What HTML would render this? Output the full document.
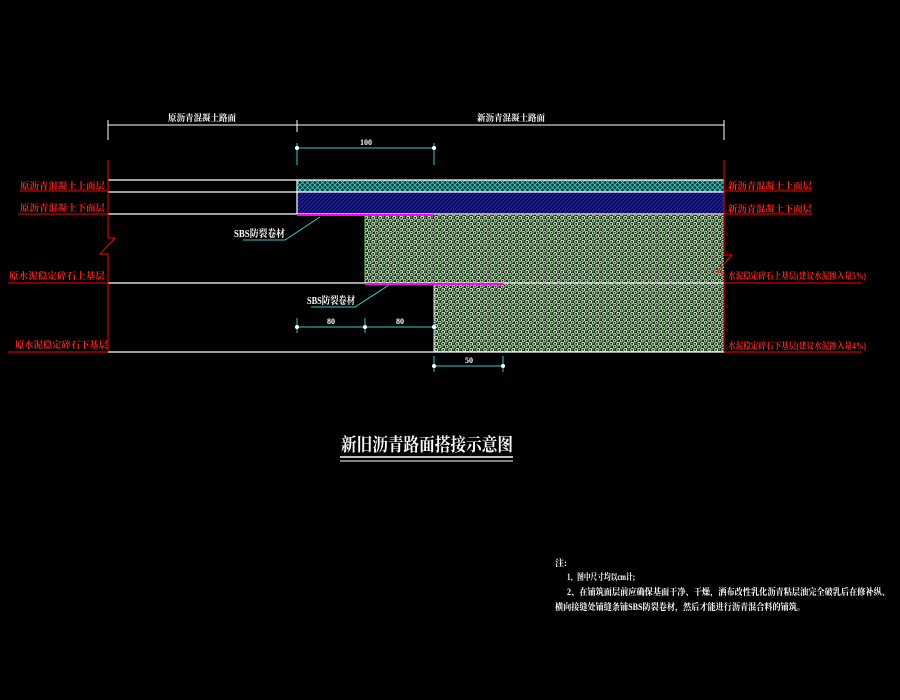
<!DOCTYPE html>
<html><head><meta charset="utf-8"><style>
html,body{margin:0;padding:0;background:#000;width:900px;height:700px;overflow:hidden}
svg{display:block}
text{font-family:"Liberation Serif","Noto Serif CJK SC","Noto Sans CJK SC",serif;font-weight:bold}
</style></head><body>
<svg width="900" height="700" viewBox="0 0 900 700" xmlns="http://www.w3.org/2000/svg">
<defs>
<pattern id="cx" width="5" height="5" patternUnits="userSpaceOnUse">
<rect width="5" height="5" fill="#0d3a3a"/>
<path d="M0 0L5 5M5 0L0 5" stroke="#3fd0c8" stroke-width="0.8"/>
</pattern>
<pattern id="bl" width="4" height="4" patternUnits="userSpaceOnUse">
<rect width="4" height="4" fill="#0a0a60"/>
<path d="M0 4L4 0" stroke="#2a2ad0" stroke-width="0.8"/>
</pattern>
<pattern id="gr" width="7" height="6" patternUnits="userSpaceOnUse">
<rect width="7" height="6" fill="#1a2a18"/>
<circle cx="2.2" cy="1.8" r="1.5" fill="none" stroke="#d8ffd0" stroke-width="0.9"/>
<circle cx="5.6" cy="4.6" r="1.3" fill="none" stroke="#a8f0a0" stroke-width="0.9"/>
<path d="M4.5 1l1.6 0M0.3 4.8l1.6 0" stroke="#f0fff0" stroke-width="0.8"/>
</pattern>
</defs>
<rect x="297" y="180" width="427" height="12" fill="url(#cx)"/>
<rect x="297" y="192" width="427" height="22" fill="url(#bl)"/>
<rect x="365" y="215" width="359" height="68" fill="url(#gr)"/>
<rect x="434" y="283" width="290" height="69" fill="url(#gr)"/>
<line x1="365" y1="215" x2="365" y2="283" stroke="#6c6" stroke-width="1"/>
<line x1="434" y1="283" x2="434" y2="352" stroke="#ddd" stroke-width="1"/>
<g stroke="#fff" stroke-width="1.2">
<line x1="108" y1="180" x2="724" y2="180"/>
<line x1="108" y1="192" x2="724" y2="192"/>
<line x1="108" y1="214" x2="724" y2="214"/>
<line x1="108" y1="283" x2="724" y2="283"/>
<line x1="108" y1="352" x2="724" y2="352"/>
<line x1="297" y1="180" x2="297" y2="214"/>
</g>
<line x1="297" y1="215" x2="434" y2="215" stroke="#f0f" stroke-width="2"/>
<line x1="365" y1="284" x2="503" y2="284" stroke="#f0f" stroke-width="2"/>
<g stroke="#f00" stroke-width="1" fill="none">
<polyline points="108,160 108,238 115,238 100,254 108,254 108,352"/>
<polyline points="724,160 724,255 732,255 717,272 724,272 724,352"/>
<line x1="20" y1="191" x2="108" y2="191"/>
<line x1="18" y1="214" x2="108" y2="214"/>
<line x1="8" y1="283" x2="108" y2="283"/>
<line x1="8" y1="352" x2="108" y2="352"/>
<line x1="724" y1="191" x2="812" y2="191"/>
<line x1="724" y1="214" x2="812" y2="214"/>
<line x1="724" y1="283" x2="862" y2="283"/>
<line x1="724" y1="352" x2="862" y2="352"/>
</g>
<g fill="#f22" font-size="9">
<text x="20" y="189" textLength="85" lengthAdjust="spacingAndGlyphs">原沥青混凝土上面层</text>
<text x="20" y="211" textLength="85" lengthAdjust="spacingAndGlyphs">原沥青混凝土下面层</text>
<text x="9" y="279" textLength="96" lengthAdjust="spacingAndGlyphs">原水泥稳定碎石上基层</text>
<text x="15" y="348" textLength="93" lengthAdjust="spacingAndGlyphs">原水泥稳定碎石下基层</text>
<text x="728" y="189" textLength="84" lengthAdjust="spacingAndGlyphs">新沥青混凝土上面层</text>
<text x="728" y="212" textLength="84" lengthAdjust="spacingAndGlyphs">新沥青混凝土下面层</text>
<text x="728" y="279" textLength="138" lengthAdjust="spacingAndGlyphs">水泥稳定碎石上基层(建议水泥掺入量5%)</text>
<text x="728" y="349" textLength="138" lengthAdjust="spacingAndGlyphs">水泥稳定碎石下基层(建议水泥掺入量4%)</text>
</g>
<g stroke="#fff" stroke-width="1">
<line x1="108" y1="125" x2="724" y2="125"/>
<line x1="108" y1="120" x2="108" y2="140"/>
<line x1="297" y1="120" x2="297" y2="132"/>
<line x1="724" y1="120" x2="724" y2="140"/>
</g>
<g fill="#fff" font-size="9">
<text x="168" y="121" textLength="68" lengthAdjust="spacingAndGlyphs">原沥青混凝土路面</text>
<text x="477" y="121" textLength="68" lengthAdjust="spacingAndGlyphs">新沥青混凝土路面</text>
</g>
<g stroke="#3cc" stroke-width="1">
<line x1="297" y1="148" x2="434" y2="148"/>
<line x1="297" y1="143" x2="297" y2="165"/>
<line x1="434" y1="143" x2="434" y2="165"/>
<line x1="297" y1="327" x2="434" y2="327"/>
<line x1="297" y1="318" x2="297" y2="333"/>
<line x1="365" y1="318" x2="365" y2="333"/>
<line x1="434" y1="318" x2="434" y2="333"/>
<line x1="434" y1="366" x2="503" y2="366"/>
<line x1="434" y1="356" x2="434" y2="372"/>
<line x1="503" y1="356" x2="503" y2="372"/>
<polyline points="243,240 285,240 320,217" fill="none"/>
<polyline points="311,307 355,307 389,285" fill="none"/>
</g>
<g fill="#fff">
<circle cx="297" cy="148" r="2"/><circle cx="434" cy="148" r="2"/>
<circle cx="297" cy="327" r="2"/><circle cx="365" cy="327" r="2"/><circle cx="434" cy="327" r="2"/>
<circle cx="434" cy="366" r="2"/><circle cx="503" cy="366" r="2"/>
</g>
<g fill="#fff" font-size="8">
<text x="360" y="145">100</text>
<text x="327" y="324">80</text>
<text x="396" y="324">80</text>
<text x="465" y="363">50</text>
</g>
<g fill="#fff" font-size="10">
<text x="234" y="237" textLength="51" lengthAdjust="spacingAndGlyphs">SBS防裂卷材</text>
<text x="307" y="304" textLength="48" lengthAdjust="spacingAndGlyphs">SBS防裂卷材</text>
</g>
<text x="427" y="451" fill="#fff" font-size="18" text-anchor="middle" textLength="172" lengthAdjust="spacingAndGlyphs">新旧沥青路面搭接示意图</text>
<line x1="340" y1="457" x2="513" y2="457" stroke="#fff" stroke-width="1.5"/>
<line x1="340" y1="461" x2="513" y2="461" stroke="#fff" stroke-width="1"/>
<g fill="#fff" font-size="9">
<text x="555" y="566">注:</text>
<text x="567" y="580" textLength="68" lengthAdjust="spacingAndGlyphs">1、图中尺寸均以cm计;</text>
<text x="567" y="595" textLength="323" lengthAdjust="spacingAndGlyphs">2、在铺筑面层前应确保基面干净、干燥，洒布改性乳化沥青粘层油完全破乳后在修补纵、</text>
<text x="555" y="610" textLength="250" lengthAdjust="spacingAndGlyphs">横向接缝处铺缝条铺SBS防裂卷材，然后才能进行沥青混合料的铺筑。</text>
</g>
</svg>
</body></html>
